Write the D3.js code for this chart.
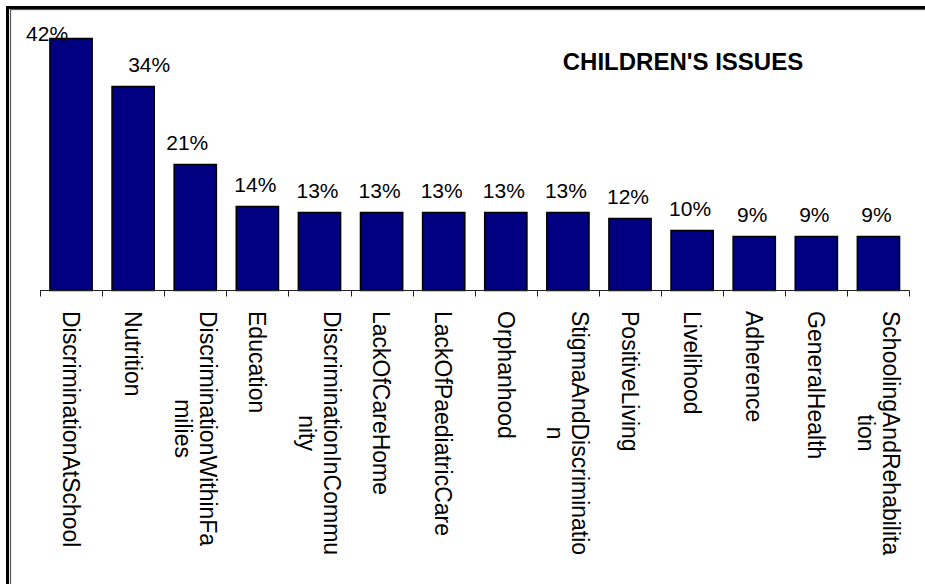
<!DOCTYPE html>
<html>
<head>
<meta charset="utf-8">
<script src="https://cdn.jsdelivr.net/npm/d3@7"></script>
<style>
  html, body { margin: 0; padding: 0; background: #fff; }
  svg { display: block; font-family: "Liberation Sans", Arial, sans-serif; }
</style>
</head>
<body>
<svg id="chart" width="925" height="584"></svg>
<script>
// Children's issues: share of mentions per topic
const categories = [
  "DiscriminationAtSchool", "Nutrition", "DiscriminationWithinFamilies", "Education",
  "DiscriminationInCommunity", "LackOfCareHome", "LackOfPaediatricCare", "Orphanhood",
  "StigmaAndDiscrimination", "PositiveLiving", "Livelihood", "Adherence",
  "GeneralHealth", "SchoolingAndRehabilitation"
];
const values = [42, 34, 21, 14, 13, 13, 13, 13, 13, 12, 10, 9, 9, 9];
const title = "CHILDREN'S ISSUES";

const W = 925, H = 584;
const svg = d3.select("#chart");

// Frame: heavy black outer border plus a thin inner rule
svg.append("rect")
  .attr("x", 7.5).attr("y", 7.5)
  .attr("width", W + 20).attr("height", H + 20)
  .attr("fill", "none").attr("stroke", "#000").attr("stroke-width", 3);
svg.append("rect")
  .attr("x", 10.5).attr("y", 9.5)
  .attr("width", W + 20).attr("height", H + 20)
  .attr("fill", "none").attr("stroke", "#555").attr("stroke-width", 1.2);

const plot = { left: 40, right: 909.5, top: 20.5, bottom: 290.5 };

const x = d3.scaleBand()
  .domain(categories)
  .range([plot.left, plot.right])
  .paddingInner(0.32)
  .paddingOuter(0.16);

const y = d3.scaleLinear()
  .domain([0, 45])
  .range([plot.bottom, plot.top]);

const step = x.step();
const gapHalf = (step - x.bandwidth()) / 2;

// Bars
svg.append("g").selectAll("rect")
  .data(categories)
  .join("rect")
  .attr("x", d => x(d))
  .attr("y", (d, i) => y(values[i]))
  .attr("width", x.bandwidth())
  .attr("height", (d, i) => y(0) - y(values[i]))
  .attr("fill", "#000080")
  .attr("stroke", "#000")
  .attr("stroke-width", 1.5);

// Category axis line and ticks at band boundaries
const axis = svg.append("g");
axis.append("line")
  .attr("x1", plot.left).attr("x2", plot.right)
  .attr("y1", plot.bottom).attr("y2", plot.bottom)
  .attr("stroke", "#222").attr("stroke-width", 1);
const tickXs = categories.map(d => x(d) - gapHalf).concat([x(categories[categories.length - 1]) + x.bandwidth() + gapHalf]);
axis.selectAll("line.tick")
  .data(tickXs)
  .join("line")
  .attr("class", "tick")
  .attr("x1", d => Math.round(d) + 0.5).attr("x2", d => Math.round(d) + 0.5)
  .attr("y1", plot.bottom).attr("y2", plot.bottom + 6)
  .attr("stroke", "#222").attr("stroke-width", 1);

// Value labels above bars
const labelShift = { "DiscriminationAtSchool": -24, "Nutrition": 16, "DiscriminationWithinFamilies": -8 };
svg.append("g").selectAll("text")
  .data(categories)
  .join("text")
  .attr("x", d => x(d) + x.bandwidth() / 2 + (labelShift[d] !== undefined ? labelShift[d] : -2))
  .attr("y", (d, i) => Math.max(y(values[i]) - 15, 41))
  .attr("text-anchor", "middle")
  .attr("font-size", 21)
  .attr("fill", "#000")
  .text((d, i) => values[i] + "%");

// Rotated category labels, wrapped by character when too long
const catFont = 23, lineH = 25, maxLen = catFont * 10.75;
const measurer = svg.append("text").attr("font-size", catFont).attr("visibility", "hidden");
function wrapChars(str) {
  const lines = [];
  let cur = "";
  for (const ch of str) {
    measurer.text(cur + ch);
    if (cur && measurer.node().getComputedTextLength() > maxLen) {
      lines.push(cur);
      cur = ch;
    } else {
      cur += ch;
    }
  }
  if (cur) lines.push(cur);
  return lines;
}
function width(str) { measurer.text(str); return measurer.node().getComputedTextLength(); }

const capHalf = catFont * 0.716 / 2;
categories.forEach(d => {
  const lines = wrapChars(d);
  const maxW = d3.max(lines, width);
  const g = svg.append("g")
    .attr("transform", `translate(${x(d) + x.bandwidth() / 2},311) rotate(90)`);
  lines.forEach((ln, k) => {
    g.append("text")
      .attr("x", maxW / 2)
      .attr("y", capHalf + (k - (lines.length - 1) / 2) * lineH)
      .attr("text-anchor", "middle")
      .attr("font-size", catFont)
      .attr("fill", "#000")
      .text(ln);
  });
});
measurer.remove();

// Title
svg.append("text")
  .attr("x", 683).attr("y", 70)
  .attr("text-anchor", "middle")
  .attr("font-size", 24)
  .attr("font-weight", "bold")
  .attr("fill", "#000")
  .text(title);
</script>
</body>
</html>
